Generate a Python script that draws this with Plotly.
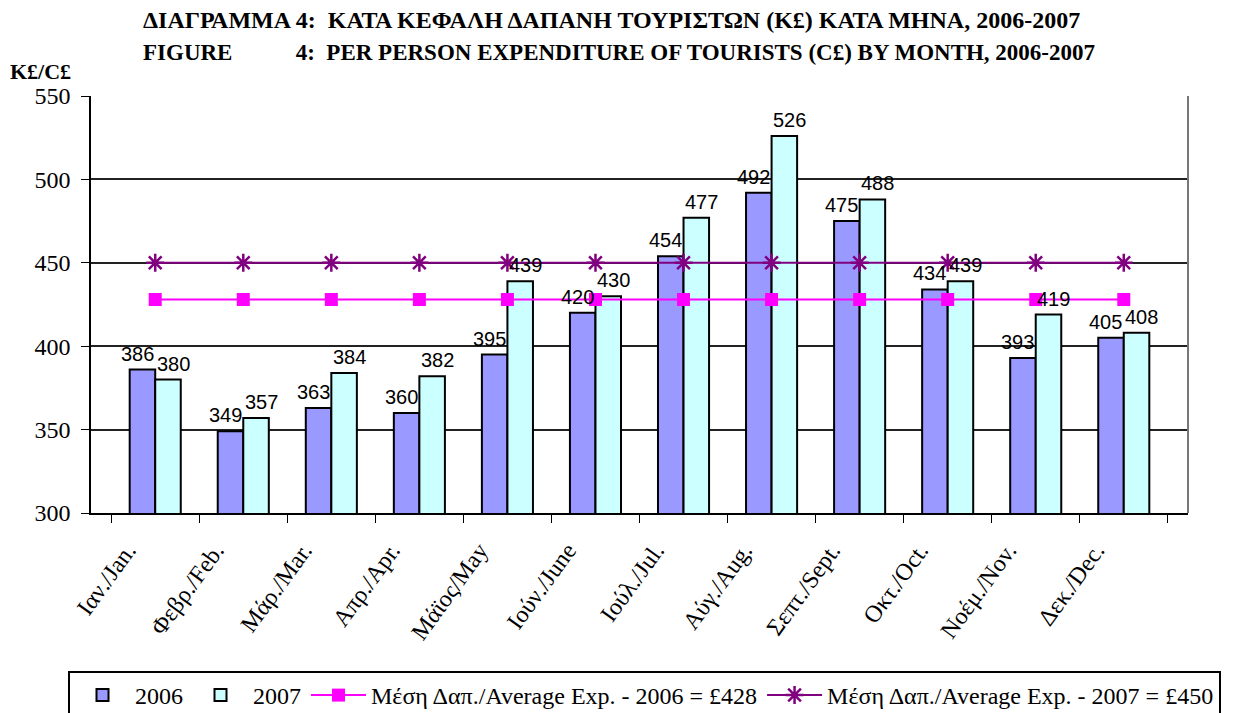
import plotly.graph_objects as go

months = ["Ιαν./Jan.", "Φεβρ./Feb.", "Μάρ./Mar.", "Απρ./Apr.", "Μάϊος/May", "Ιούν./June",
          "Ιούλ./Jul.", "Αύγ./Aug.", "Σεπτ./Sept.", "Οκτ./Oct.", "Νοέμ./Nov.", "Δεκ./Dec."]
exp_2006 = [386, 349, 363, 360, 395, 420, 454, 492, 475, 434, 393, 405]
exp_2007 = [380, 357, 384, 382, 439, 430, 477, 526, 488, 439, 419, 408]
avg_2006 = [428] * 12
avg_2007 = [450] * 12

serif = "Liberation Serif, Times New Roman, serif"
sans = "Liberation Sans, Arial, sans-serif"

# the page has an 8px body margin, so the figure is drawn 8px smaller
W, H = 1242, 705
ML, MR, MT, MB = 83, 62, 88, 200
PW, PH = W - ML - MR, H - MT - MB

fig = go.Figure()
fig.add_trace(go.Bar(x=months, y=exp_2006, name="2006",
                     marker=dict(color="#9999FF", line=dict(color="black", width=2))))
fig.add_trace(go.Bar(x=months, y=exp_2007, name="2007",
                     marker=dict(color="#CCFFFF", line=dict(color="black", width=2))))
fig.add_trace(go.Scatter(x=months, y=avg_2006, mode="lines+markers",
                         name="Μέση Δαπ./Average Exp. - 2006 = £428",
                         line=dict(color="#FF00FF", width=2),
                         marker=dict(symbol="square", size=13, color="#FF00FF")))
fig.add_trace(go.Scatter(x=months, y=avg_2007, mode="lines+markers",
                         name="Μέση Δαπ./Average Exp. - 2007 = £450",
                         line=dict(color="#800080", width=2),
                         marker=dict(symbol="asterisk-open", size=15,
                                     line=dict(color="#800080", width=2.5))))

# value labels above each bar, pushed slightly outward so neighbours do not collide
for vals, dx in ((exp_2006, -18), (exp_2007, 18)):
    for m, v in zip(months, vals):
        fig.add_annotation(x=m, y=v, text=str(v), xshift=dx, yshift=3,
                           xanchor="center", yanchor="bottom", showarrow=False,
                           font=dict(family=sans, size=20, color="black"))

fig.update_layout(
    width=W, height=H,
    paper_bgcolor="white", plot_bgcolor="white",
    margin=dict(l=ML, r=MR, t=MT, b=MB, autoexpand=False),
    barmode="group", bargap=0.42, bargroupgap=0,
    showlegend=True,
    legend=dict(orientation="h", x=(60 - ML) / PW, xanchor="left",
                y=-(663 - (H - MB)) / PH, yanchor="top",
                font=dict(family=serif, size=24, color="black"),
                bordercolor="black", borderwidth=2, bgcolor="white",
                traceorder="normal", itemwidth=55, tracegroupgap=0),
    font=dict(family=sans, color="black"),
)
fig.update_xaxes(type="category", tickangle=-54, tickson="boundaries", ticks="outside",
                 ticklen=8, tickcolor="black", tickfont=dict(family=serif, size=24, color="black"),
                 ticklabelshift=-28, ticklabelstandoff=12,
                 showline=True, linecolor="black", linewidth=1.5, mirror=False, showgrid=False,
                 automargin=False)
fig.update_yaxes(range=[300, 550], dtick=50, ticks="outside", ticklen=8, tickcolor="black",
                 tickfont=dict(family=serif, size=24, color="black"), ticklabelstandoff=6,
                 showline=True, linecolor="black", linewidth=1.5,
                 showgrid=True, gridcolor="#222222", gridwidth=2, zeroline=False,
                 automargin=False)

# right border of plot area
fig.add_shape(type="line", xref="paper", yref="paper", x0=1, x1=1, y0=0, y1=1,
              line=dict(color="#777777", width=2))

fig.add_annotation(text="<b>ΔΙΑΓΡΑΜΜΑ 4:  ΚΑΤΑ ΚΕΦΑΛΗ ΔΑΠΑΝΗ ΤΟΥΡΙΣΤΩΝ (Κ£) ΚΑΤΑ ΜΗΝΑ, 2006-2007</b>",
                   xref="paper", yref="paper", x=0, xshift=50, y=1, yshift=76, xanchor="left", yanchor="middle",
                   showarrow=False, font=dict(family=serif, size=24, color="black"))
fig.add_annotation(text="<b>FIGURE\u00a0\u00a0\u00a0\u00a0\u00a0\u00a0\u00a0\u00a0\u00a0\u00a0\u00a04:  PER PERSON EXPENDITURE OF TOURISTS (C£) BY MONTH, 2006-2007</b>",
                   xref="paper", yref="paper", x=0, xshift=50, y=1, yshift=44, xanchor="left", yanchor="middle",
                   showarrow=False, font=dict(family=serif, size=23, color="black"))
fig.add_annotation(text="<b>K£/C£</b>", xref="paper", yref="paper", x=0, xshift=-83, y=1, yshift=25,
                   xanchor="left", yanchor="middle", showarrow=False,
                   font=dict(family=serif, size=22, color="black"))

fig.write_html("out.html")
